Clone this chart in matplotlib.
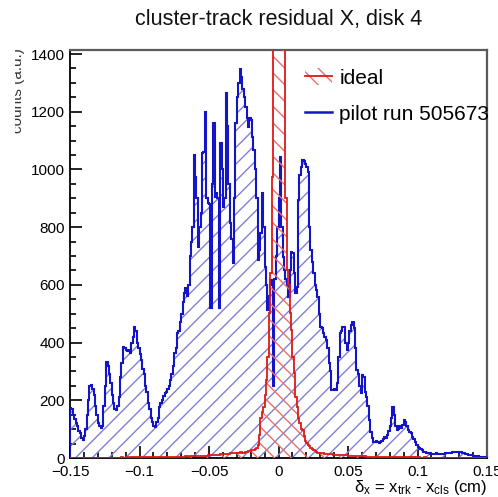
import numpy as np
import matplotlib
matplotlib.use("Agg")
import matplotlib.pyplot as plt
from matplotlib.patches import Patch
from matplotlib.lines import Line2D
from matplotlib.ticker import MultipleLocator, FuncFormatter
from matplotlib.transforms import Bbox, TransformedBbox

plt.rcParams['font.family'] = ['Liberation Sans', 'DejaVu Sans']
plt.rcParams['mathtext.fontset'] = 'custom'
plt.rcParams['mathtext.rm'] = 'Liberation Sans'
plt.rcParams['mathtext.it'] = 'Liberation Sans:italic'
plt.rcParams['hatch.linewidth'] = 1.0

# histogram binning: 300 bins over [-0.15, 0.15] cm
x_min, x_max, n_bins = -0.15, 0.15, 300

# pilot run 505673 residuals (counts per bin, 10 bins = 0.01 cm per row)
pilot_counts = [
    175, 170, 150, 135, 120, 110, 95, 85, 70, 62,
    75, 100, 150, 200, 250, 253, 240, 220, 180, 150,
    120, 110, 105, 110, 180, 250, 334, 320, 290, 260,
    220, 190, 170, 166, 180, 210, 280, 330, 386, 380,
    375, 370, 375, 365, 400, 420, 455, 440, 400, 380,
    360, 340, 310, 290, 250, 230, 190, 170, 140, 125,
    110, 108, 125, 140, 178, 190, 200, 215, 225, 230,
    240, 250, 270, 290, 320, 364, 380, 433, 440, 470,
    500, 540, 571, 590, 560, 600, 700, 750, 800, 1050,
    975, 900, 731, 800, 850, 1056, 1060, 1200, 900, 883,
    880, 520, 950, 1160, 905, 920, 900, 520, 1091, 1000,
    870, 900, 1265, 1150, 950, 814, 760, 675, 900, 1160,
    1250, 1300, 1348, 1320, 1280, 1251, 1216, 1180, 1147, 1178,
    1171, 1112, 1067, 1000, 900, 686, 720, 780, 918, 800,
    662, 600, 513, 560, 617, 600, 250, 620, 700, 800,
    900, 1043, 800, 697, 650, 620, 600, 558, 650, 714,
    710, 640, 571, 593, 894, 980, 1010, 1033, 1030, 1020,
    1008, 990, 800, 720, 680, 640, 600, 582, 558, 500,
    455, 450, 433, 420, 409, 380, 329, 300, 236, 236,
    240, 236, 260, 350, 433, 440, 455, 455, 400, 374,
    400, 440, 460, 472, 450, 380, 305, 290, 250, 225,
    288, 280, 230, 213, 180, 130, 90, 70, 55, 57,
    60, 55, 51, 55, 60, 65, 74, 70, 80, 95,
    110, 140, 178, 150, 110, 97, 100, 110, 105, 115,
    132, 125, 110, 97, 90, 85, 74, 65, 55, 45,
    39, 35, 30, 26, 22, 20, 18, 17, 16, 15,
    15, 14, 14, 16, 15, 15, 14, 14, 15, 15,
    16, 17, 18, 18, 19, 20, 22, 22, 22, 21,
    20, 20, 18, 17, 15, 13, 12, 11, 10, 9,
    8, 7, 6, 6, 5, 5, 4, 4, 3, 3,
]

# ideal (simulated) residuals (counts per bin)
ideal_counts = [
    0, 0, 0, 1, 0, 0, 0, 0, 1, 0,
    0, 0, 1, 0, 0, 0, 1, 0, 0, 1,
    0, 1, 0, 1, 0, 1, 1, 0, 1, 1,
    1, 1, 0, 1, 1, 1, 1, 2, 1, 1,
    1, 2, 1, 2, 2, 1, 2, 2, 2, 2,
    2, 2, 2, 3, 2, 3, 2, 3, 3, 3,
    3, 3, 3, 3, 3, 4, 3, 4, 4, 3,
    4, 4, 4, 4, 4, 5, 4, 5, 5, 5,
    5, 5, 5, 6, 6, 5, 6, 6, 6, 7,
    6, 7, 7, 7, 8, 7, 8, 8, 8, 9,
    9, 9, 10, 10, 11, 11, 12, 12, 13, 13,
    13, 14, 14, 15, 15, 16, 16, 17, 17, 18,
    18, 19, 20, 20, 19, 18, 20, 22, 24, 25,
    26, 27, 28, 30, 35, 45, 80, 140, 160, 177,
    220, 270, 350, 502, 641, 973, 2400, 3000, 3400, 3500,
    3500, 3300, 2900, 2400, 1800, 900, 651, 600, 502, 443,
    350, 294, 213, 177, 140, 121, 100, 97, 75, 60,
    51, 45, 40, 34, 30, 27, 24, 21, 19, 18,
    17, 16, 16, 15, 15, 14, 14, 13, 13, 12,
    12, 12, 11, 11, 10, 10, 10, 9, 9, 9,
    8, 8, 8, 8, 7, 7, 7, 7, 6, 6,
    6, 6, 6, 5, 5, 5, 5, 5, 4, 4,
    4, 4, 4, 4, 4, 3, 3, 3, 3, 3,
    3, 3, 3, 3, 2, 3, 2, 3, 2, 2,
    2, 2, 2, 2, 2, 2, 1, 2, 1, 2,
    1, 2, 1, 1, 1, 2, 1, 1, 1, 1,
    1, 1, 1, 0, 1, 1, 1, 0, 1, 1,
    1, 0, 1, 1, 0, 1, 0, 1, 0, 1,
    0, 1, 0, 0, 1, 0, 0, 1, 0, 0,
    0, 0, 1, 0, 0, 0, 0, 1, 0, 0,
]

x_ticks = [-0.15, -0.1, -0.05, 0.0, 0.05, 0.1, 0.15]
y_ticks = [0, 200, 400, 600, 800, 1000, 1200, 1400]

edges = np.linspace(x_min, x_max, n_bins + 1)

blue_line = '#1414c8'
blue_hatch = '#8080d4'
red_line = '#e01818'
red_hatch = '#e87070'

W, H = 498, 497
fig = plt.figure(figsize=(W / 100, H / 100), dpi=100)
ax = fig.add_axes([70 / W, 1 - 458 / H, (487 - 70) / W, (458 - 50) / H])

# pilot run: hatched fill + outline
ax.stairs(pilot_counts, edges, fill=True, facecolor='none', edgecolor=blue_hatch,
          hatch='//', linewidth=0, zorder=2)
ax.stairs(pilot_counts, edges, color=blue_line, linewidth=1.5, zorder=3)

# ideal: hatched fill + outline
ax.stairs(ideal_counts, edges, fill=True, facecolor='none', edgecolor=red_hatch,
          hatch='\\\\', linewidth=0, zorder=4)
ax.stairs(ideal_counts, edges, color=red_line, linewidth=1.3, zorder=5)

ax.set_xlim(x_min, x_max)
ax.set_ylim(0, 1414)

ax.set_xticks(x_ticks)
ax.set_yticks(y_ticks)
ax.xaxis.set_minor_locator(MultipleLocator(0.01))
ax.yaxis.set_minor_locator(MultipleLocator(50))
ax.xaxis.set_major_formatter(FuncFormatter(lambda v, p: ('%g' % v).replace('-', '\u2212')))
ax.yaxis.set_major_formatter(FuncFormatter(lambda v, p: '%d' % v))

ax.tick_params(axis='both', which='both', direction='in', top=False, right=False,
               labelsize=11, width=1.2, colors='black')
ax.tick_params(axis='y', which='major', length=8.5, pad=3.5)
ax.tick_params(axis='y', which='minor', length=4.5)
ax.tick_params(axis='x', which='major', length=8.5, pad=5)
ax.tick_params(axis='x', which='minor', length=4.5)

for side in ('left', 'bottom'):
    ax.spines[side].set_color('black')
    ax.spines[side].set_linewidth(1.3)
for side in ('top', 'right'):
    ax.spines[side].set_color('#5a5a5a')
    ax.spines[side].set_linewidth(1.6)

fig.text(278.5 / W, 1 - 19 / H, 'cluster-track residual X, disk 4',
         ha='center', va='center', fontsize=15.5, color='#111111')

fig.text(487 / W, 1 - 492 / H,
         'δ$_{\\mathrm{x}}$ = x$_{\\mathrm{trk}}$ - x$_{\\mathrm{cls}}$ (cm)',
         ha='right', va='baseline', fontsize=12)

# y title sits partly past the left edge of the canvas
ylab = fig.text(25 / W, 1 - 48 / H, 'counts (a.u.)', rotation=90,
                ha='right', va='top', fontsize=11, color='#333333')
ylab.set_clip_box(TransformedBbox(Bbox([[15 / W, 0], [1, 1]]), fig.transFigure))
ylab.set_clip_on(True)

handles = [
    (Patch(facecolor='none', edgecolor=red_hatch, hatch='\\\\', linewidth=0),
     Line2D([], [], color=red_line, linewidth=1.3)),
    Line2D([], [], color=blue_line, linewidth=1.8),
]
labels = ['ideal', 'pilot run 505673']
ax.legend(handles, labels, loc='upper left',
          bbox_to_anchor=(305 / W, 1 - 68 / H), bbox_transform=fig.transFigure,
          frameon=False, fontsize=15, handlelength=1.3, handleheight=0.9,
          handletextpad=0.35, labelspacing=0.8, borderpad=0, borderaxespad=0)

fig.savefig('out.png', dpi=100)
